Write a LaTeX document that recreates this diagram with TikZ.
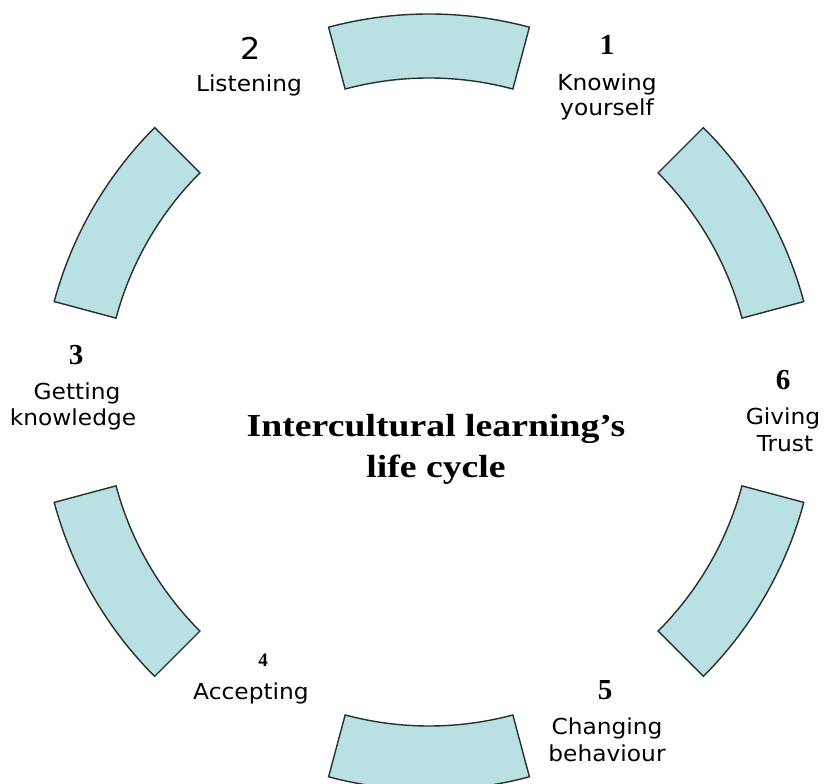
\documentclass[tikz,border=0pt]{standalone}
\usepackage{fontspec}
\usetikzlibrary{calc}
\newfontfamily\labfont[FakeStretch=1.06]{DejaVu Sans}
\newfontfamily\numfont{Liberation Serif}
\newfontfamily\titlefont[FakeStretch=1.18]{Liberation Serif}
\definecolor{segfill}{HTML}{B9E0E3}
\definecolor{segline}{HTML}{263030}
\tikzset{
  seg/.style={fill=segfill, draw=segline, line width=1.4pt, line join=miter},
  lab/.style={font=\labfont\fontsize{22}{26}\selectfont, anchor=base, inner sep=0pt},
  num/.style={font=\numfont\bfseries\fontsize{29}{32}\selectfont, anchor=base, inner sep=0pt},
  smallnum/.style={font=\numfont\bfseries\fontsize{19}{22}\selectfont, anchor=base, inner sep=0pt},
  signum/.style={font=\labfont\fontsize{30}{32}\selectfont, anchor=base, inner sep=0pt},
  ttl/.style={font=\titlefont\bfseries\fontsize{32}{40}\selectfont, anchor=base, inner sep=0pt}
}
\begin{document}
\begin{tikzpicture}[x=1pt,y=1pt]
\clip (0,0) rectangle (825,784);
\fill[white] (0,0) rectangle (825,784);
\coordinate (C) at (429,382);
% six annular segments
\foreach \a in {30,90,150,210,270,330}{
  \pgfmathsetmacro{\aa}{\a-15}
  \pgfmathsetmacro{\ab}{\a+15}
  \draw[seg] ($(C)+(\aa:388pt)$) arc[start angle=\aa, end angle=\ab, radius=388pt]
    -- ($(C)+(\ab:324pt)$) arc[start angle=\ab, end angle=\aa, radius=324pt] -- cycle;
}
% title
\node[ttl] (t1) at (436,347) {Intercultural learning’s};
\node[ttl] (t2) at (436,306) {life cycle};
% 1
\node[num] (n1) at (607,729) {1};
\node[lab] (l1a) at (607,693) {Knowing};
\node[lab] (l1b) at (607,668) {yourself};
% 2
\node[signum] (n2) at (251,724) {2};
\node[lab] (l2a) at (249,692) {Listening};
% 3
\node[num] (n3) at (76,419) {3};
\node[lab] (l3a) at (77,384) {Getting};
\node[lab] (l3b) at (73,358) {knowledge};
% 4
\node[smallnum] (n4) at (263,117) {4};
\node[lab] (l4a) at (251,84) {Accepting};
% 5
\node[num] (n5) at (605,84) {5};
\node[lab] (l5a) at (607,49) {Changing};
\node[lab] (l5b) at (607,22) {behaviour};
% 6
\node[num] (n6) at (783,394) {6};
\node[lab] (l6a) at (783,359) {Giving};
\node[lab] (l6b) at (785,332) {Trust};
\end{tikzpicture}
\end{document}
